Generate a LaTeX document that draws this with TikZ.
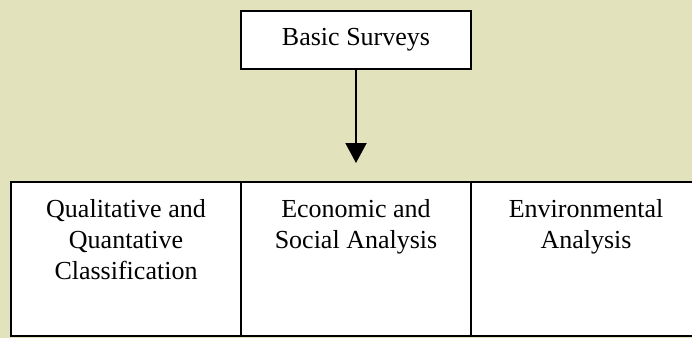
\documentclass[tikz,border=0pt]{standalone}
\usepackage{fontspec}
\setmainfont{Liberation Serif}
\usetikzlibrary{arrows.meta}
\usetikzlibrary{positioning, backgrounds}
\usepackage{xcolor}
\definecolor{mybeige}{RGB}{226,226,188}
\tikzset{
  >={Triangle[width=21pt,length=20pt]},
  box/.style={draw=black,line width=2pt,inner sep=0pt,outer sep=0pt},
  top box/.style={box,fill=white,minimum width=230pt,minimum height=58pt},
  cell/.style={box,minimum width=230pt,minimum height=154pt},
  label/.style={align=center,inner sep=0pt,font=\fontsize{26}{31}\selectfont},
  connect/.style={->,line width=2pt,shorten >=19pt}
}

\begin{document}
\begin{tikzpicture}[x=1pt,y=-1pt]

  \useasboundingbox (0,0) rectangle (692,338);

  % --- TOP: BASIC SURVEYS ---
  \node[top box,label] (surveys) at (356,40) {Basic Surveys};

  % --- BOTTOM ROW: THREE ANALYSIS CELLS ---
  \node[cell, anchor=north west] (classif) at (11,182) {};
  \node[cell, right=0pt of classif] (econ) {};
  \node[cell, right=0pt of econ] (envir) {};

  % Cell texts (top aligned)
  \node[label, below=17.5pt of classif.north] (classif-text) {Qualitative and\\Quantative\\Classification};
  \node[label, below=17.5pt of econ.north] (econ-text) {Economic and\\Social Analysis};
  \node[label, below=17.5pt of envir.north] (envir-text) {Environmental\\Analysis};

  % --- CONNECTION ---
  \draw[connect] (surveys) -- (econ);

  % --- BACKGROUND: page colour, white under the cells ---
  \begin{pgfonlayer}{background}
    \fill[mybeige] (0,0) rectangle (692,338);
    \fill[white] (classif.north west) rectangle (envir.south east);
  \end{pgfonlayer}

\end{tikzpicture}
\end{document}
